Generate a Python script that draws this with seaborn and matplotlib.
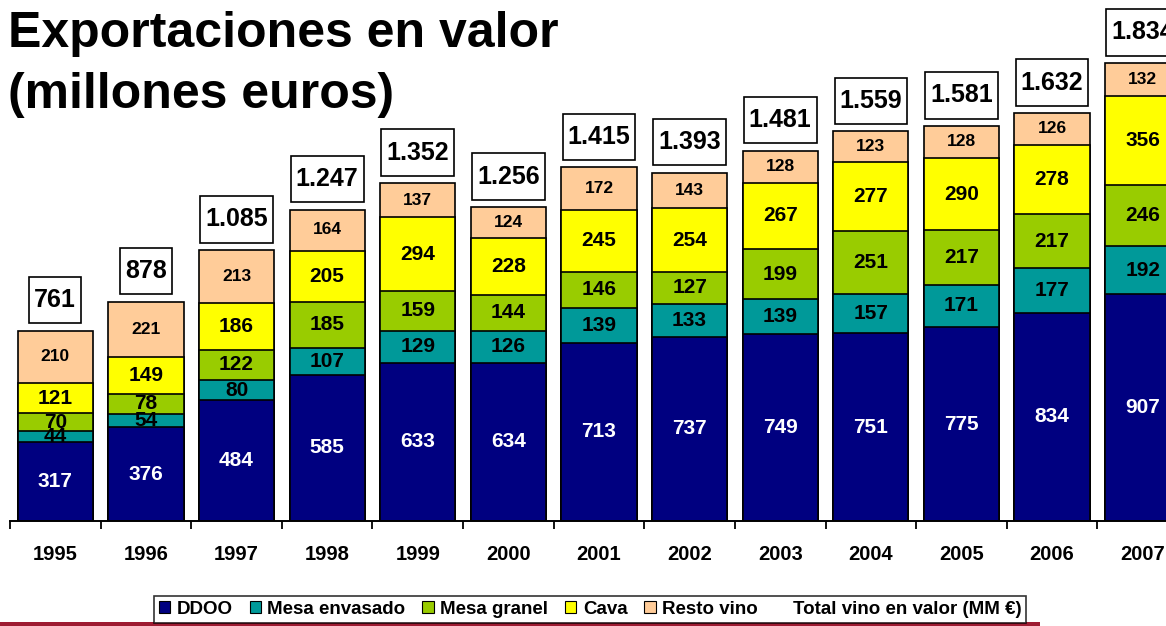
import numpy as np
import matplotlib
matplotlib.use("Agg")
import matplotlib.pyplot as plt
from matplotlib.patches import Patch, Rectangle
from matplotlib.path import Path
import seaborn as sns

years = ["1995", "1996", "1997", "1998", "1999", "2000", "2001",
         "2002", "2003", "2004", "2005", "2006", "2007"]
ddoo = [317, 376, 484, 585, 633, 634, 713, 737, 749, 751, 775, 834, 907]
mesa_envasado = [44, 54, 80, 107, 129, 126, 139, 133, 139, 157, 171, 177, 192]
mesa_granel = [70, 78, 122, 185, 159, 144, 146, 127, 199, 251, 217, 217, 246]
cava = [121, 149, 186, 205, 294, 228, 245, 254, 267, 277, 290, 278, 356]
resto_vino = [210, 221, 213, 164, 137, 124, 172, 143, 128, 123, 128, 126, 132]
total_labels = ["761", "878", "1.085", "1.247", "1.352", "1.256", "1.415",
                "1.393", "1.481", "1.559", "1.581", "1.632", "1.834"]

series_names = ["DDOO", "Mesa envasado", "Mesa granel", "Cava", "Resto vino"]
colors = ["#000080", "#009999", "#99CC00", "#FFFF00", "#FFCC99"]

sns.set_style("white")
plt.rcParams["font.family"] = ["Liberation Sans", "DejaVu Sans"]
plt.rcParams["font.weight"] = "bold"
plt.rcParams["text.color"] = "black"
plt.rcParams["xtick.color"] = "black"

W, H = 1166, 626
fig = plt.figure(figsize=(W / 100, H / 100), dpi=100)
# axes runs past the right edge, as in the reference slide
ax = fig.add_axes([10 / W, 105 / H, 1178 / W, 521 / H])

layers = np.array([ddoo, mesa_envasado, mesa_granel, cava, resto_vino])
cum = np.cumsum(layers, axis=0)

# draw cumulative bars from the top layer down
for i in range(len(series_names) - 1, -1, -1):
    sns.barplot(x=years, y=cum[i], color=colors[i], saturation=1,
                edgecolor="black", linewidth=1.2, width=0.83, ax=ax)

ax.set_xlim(-0.5, len(years) - 0.5)
ax.set_ylim(0, 2084)
ax.set_yticks([])
ax.set_ylabel("")
for s in ["left", "right", "top"]:
    ax.spines[s].set_visible(False)
ax.spines["bottom"].set_linewidth(1.4)
ax.spines["bottom"].set_color("black")

ax.set_xticks(range(len(years)))
ax.set_xticklabels(years, fontsize=14.5, fontweight="bold", color="black")
ax.tick_params(axis="x", which="major", length=0, pad=17)
ax.set_xticks(np.arange(len(years)) - 0.5, minor=True)
ax.tick_params(axis="x", which="minor", length=6, width=1.3, color="black",
               direction="out", bottom=True)

# segment labels
for j in range(len(years)):
    for i in range(len(series_names)):
        bottom = cum[i - 1, j] if i > 0 else 0
        mid = bottom + layers[i, j] / 2
        col = "white" if i == 0 else "black"
        fs = 12.5 if i == 4 else 15
        ax.text(j, mid, str(layers[i, j]), ha="center", va="center",
                color=col, fontsize=fs, fontweight="bold")


def tall_box(x0, y0, width, height, mutation_size):
    padx = 0.2 * mutation_size
    pady = 0.45 * mutation_size
    x0, y0 = x0 - padx, y0 - pady
    x1, y1 = x0 + width + 2 * padx, y0 + height + 2 * pady
    return Path([(x0, y0), (x1, y0), (x1, y1), (x0, y1), (x0, y0)], closed=True)


# total boxes
for j in range(len(years)):
    ax.text(j, cum[-1, j] + 122, total_labels[j], ha="center", va="center",
            fontsize=18, fontweight="bold", color="black",
            bbox=dict(boxstyle=tall_box, facecolor="white", edgecolor="black",
                      linewidth=1.2))

fig.text(8 / W, 1 - 47 / H, "Exportaciones en valor", fontsize=36,
         fontweight="bold", ha="left", va="baseline", color="black")
fig.text(8 / W, 1 - 108 / H, "(millones euros)", fontsize=36,
         fontweight="bold", ha="left", va="baseline", color="black")

handles = [Patch(facecolor=c, edgecolor="black", linewidth=0.8) for c in colors]
handles.append(Patch(facecolor="none", edgecolor="none"))
labels = series_names + ["Total vino en valor (MM €)"]
leg = fig.legend(handles, labels, loc="center", bbox_to_anchor=(590 / W, 1 - 609.5 / H),
                 ncol=6, frameon=True, fancybox=False,
                 prop={"weight": "bold", "size": 13.5},
                 handlelength=0.6, handleheight=0.6, handletextpad=0.35,
                 columnspacing=0.9, borderpad=0.25, borderaxespad=0)
leg.get_frame().set_edgecolor("black")
leg.get_frame().set_linewidth(1.2)

# slide footer stripe
fig.patches.append(Rectangle((0, 0), 1040 / W, 4 / H, transform=fig.transFigure,
                             facecolor="#9e1b32", edgecolor="none", zorder=0))

fig.savefig("out.png", dpi=100)
